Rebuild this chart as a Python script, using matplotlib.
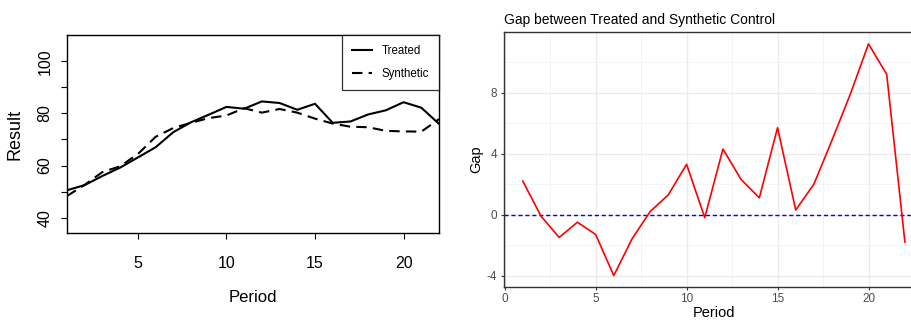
import matplotlib
matplotlib.use("Agg")
import matplotlib.pyplot as plt
import numpy as np

# values
periods = list(range(1, 23))
treated = [50.5, 52.5, 56.0, 59.2, 63.1, 67.0, 72.8, 76.6, 79.5, 82.5, 81.8,
           84.6, 84.0, 81.4, 83.7, 76.4, 76.9, 79.6, 81.2, 84.3, 82.2, 76.0]
synthetic = [48.3, 52.6, 57.5, 59.7, 64.4, 71.0, 74.4, 76.4, 78.2, 79.2, 82.0,
             80.3, 81.7, 80.3, 78.0, 76.1, 74.9, 74.7, 73.3, 73.1, 73.0, 77.8]
gap = np.array(treated) - np.array(synthetic)

left_yticks = [40, 50, 60, 70, 80, 90, 100]
left_ylabels = ["40", "", "60", "", "80", "", "100"]
left_xticks = [5, 10, 15, 20]
right_xticks = [0, 5, 10, 15, 20]
right_yticks = [-4, 0, 4, 8]

plt.rcParams["font.family"] = ["Liberation Sans", "DejaVu Sans"]
plt.rcParams["axes.unicode_minus"] = False

fig = plt.figure(figsize=(9.12, 3.2), dpi=100)

# ---- left panel: R base-graphics style ----
ax1 = fig.add_axes([67 / 912, 1 - 233 / 320, (439 - 67) / 912, (233 - 35) / 320])
ax1.plot(periods, treated, color="black", lw=1.5, label="Treated")
ax1.plot(periods, synthetic, color="black", lw=1.5, dashes=(5, 3), label="Synthetic")
ax1.set_xlim(1, 22)
ax1.set_ylim(34.1, 110.1)
ax1.set_xticks(left_xticks)
ax1.set_yticks(left_yticks)
ax1.set_yticklabels(left_ylabels, rotation=90, va="center")
ax1.tick_params(axis="both", direction="out", length=4.5, width=0.8, labelsize=11.5)
ax1.tick_params(axis="x", pad=12)
ax1.tick_params(axis="y", pad=6)
for s in ax1.spines.values():
    s.set_linewidth(1.0)
ax1.set_xlabel("Period", fontsize=12, labelpad=14)
ax1.set_ylabel("Result", fontsize=13, labelpad=10)
leg = ax1.legend(loc="upper right", fontsize=8.3, frameon=True, fancybox=False,
                 edgecolor="black", borderaxespad=0, handlelength=1.7,
                 handletextpad=0.8, borderpad=0.9, labelspacing=0.9)
leg.get_frame().set_linewidth(0.9)

# ---- right panel: ggplot theme_bw style ----
ax2 = fig.add_axes([503.7 / 912, 1 - 286.7 / 320, 420.3 / 912, (286.7 - 32.3) / 320])
ax2.set_facecolor("white")
ax2.set_xlim(-0.05, 23.05)
ax2.set_ylim(-4.73, 11.96)
ax2.set_xticks(right_xticks)
ax2.set_yticks(right_yticks)
ax2.set_xticks([2.5, 7.5, 12.5, 17.5, 22.5], minor=True)
ax2.set_yticks([-2, 2, 6, 10], minor=True)
ax2.grid(True, which="major", color="#EBEBEB", lw=1.0)
ax2.grid(True, which="minor", color="#F2F2F2", lw=0.6)
ax2.set_axisbelow(True)
ax2.axhline(0, color="blue", lw=1.0, dashes=(3, 2))
ax2.plot(periods, gap, color="red", lw=1.2)
for s in ax2.spines.values():
    s.set_color("#333333")
    s.set_linewidth(1.0)
ax2.tick_params(axis="both", which="major", direction="out", length=2.5, width=0.8,
                color="#333333", labelsize=8.5, labelcolor="#4D4D4D", pad=2)
ax2.tick_params(axis="both", which="minor", length=0)
ax2.set_xlabel("Period", fontsize=10.5, labelpad=1)
ax2.set_ylabel("Gap", fontsize=10.5, labelpad=3)
ax2.set_title("Gap between Treated and Synthetic Control", fontsize=10,
              loc="left", pad=6)

fig.savefig("out.png", dpi=100)
